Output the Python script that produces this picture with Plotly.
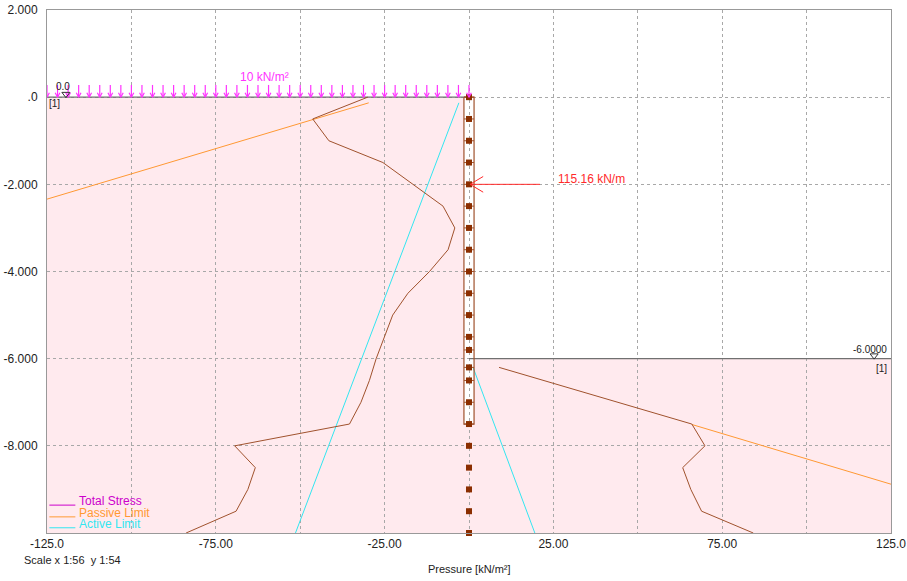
import plotly.graph_objects as go

# ---------------- data ----------------
depth_left = [0, -0.5, -1.0, -1.5, -2.0, -2.5, -3.0, -3.5, -4.0, -4.5, -5.0,
              -5.5, -6.0, -6.5, -7.0, -7.5, -8.0, -8.5, -9.0, -9.5, -10.0]
stress_left = [-30.0, -46.3, -41.5, -25.5, -16.6, -7.7, -4.2, -6.2, -11.7, -18.1, -22.6,
               -25.0, -27.5, -29.5, -32.0, -35.4, -69.4, -63.3, -65.5, -69.0, -83.8]
depth_right = [-6.2, -7.5, -8.0, -8.5, -9.0, -9.5, -10.0]
stress_right = [8.9, 66.0, 69.9, 63.3, 65.7, 68.9, 84.2]

passive_left_x = [-125.0, -29.7]
passive_left_y = [-2.34, -0.13]
passive_right_x = [66.0, 125.0]
passive_right_y = [-7.51, -8.88]
active_left_x = [-3.0, -51.4]
active_left_y = [-0.13, -10.0]
active_right_x = [1.2, 19.5]
active_right_y = [-6.2, -10.0]

node_depths = [0, -0.5, -1.0, -1.5, -2.0, -2.5, -3.0, -3.5, -4.0, -4.5, -5.0, -5.5,
               -5.8, -6.2, -6.5, -7.0, -7.5, -8.0, -8.5, -9.0, -9.5, -10.0]
wall_half_width = 1.5
wall_bottom = -7.5
ground_left = 0.0
ground_right = -6.0
surcharge_from, surcharge_to, surcharge_count = -125.0, 0.0, 41
surcharge_label = "10 kN/m²"
force_depth = -2.0
force_label = "115.16 kN/m"

x_ticks = [-125, -100, -75, -50, -25, 0, 25, 50, 75, 100, 125]
x_tick_text = ["-125.0", "", "-75.00", "", "-25.00", "", "25.00", "", "75.00", "", "125.0"]
y_ticks = [2, 0, -2, -4, -6, -8]
y_tick_text = ["2.000", ".0", "-2.000", "-4.000", "-6.000", "-8.000"]

BROWN = "#A0522D"
NODE = "#8B2E00"
ORANGE = "#FF9933"
CYAN = "#33E6F0"
MAGENTA = "#FF33FF"
RED = "#FF2A2A"
PINK = "#FFEAEE"
FONT = "Liberation Sans, Arial, sans-serif"

fig = go.Figure()

# soil fills / wall
shapes = [
    dict(type="rect", xref="x", yref="y", x0=-125, x1=0, y0=-10, y1=ground_left,
         fillcolor=PINK, line=dict(width=0), layer="below"),
    dict(type="rect", xref="x", yref="y", x0=0, x1=125, y0=-10, y1=ground_right,
         fillcolor=PINK, line=dict(width=0), layer="below"),
    dict(type="rect", xref="x", yref="y", x0=-wall_half_width, x1=wall_half_width,
         y0=wall_bottom, y1=0, fillcolor="white", line=dict(width=0), layer="below"),
]
fig.update_layout(shapes=shapes)

# ground lines
fig.add_trace(go.Scatter(x=[-125, 0], y=[ground_left, ground_left], mode="lines",
                         line=dict(color="#707070", width=1.2), hoverinfo="skip"))
fig.add_trace(go.Scatter(x=[0, 125], y=[ground_right, ground_right], mode="lines",
                         line=dict(color="#707070", width=1.2), hoverinfo="skip"))

# limits
fig.add_trace(go.Scatter(x=passive_left_x, y=passive_left_y, mode="lines",
                         line=dict(color=ORANGE, width=1), hoverinfo="skip"))
fig.add_trace(go.Scatter(x=passive_right_x, y=passive_right_y, mode="lines",
                         line=dict(color=ORANGE, width=1), hoverinfo="skip"))
fig.add_trace(go.Scatter(x=active_left_x, y=active_left_y, mode="lines",
                         line=dict(color=CYAN, width=1), hoverinfo="skip"))
fig.add_trace(go.Scatter(x=active_right_x, y=active_right_y, mode="lines",
                         line=dict(color=CYAN, width=1), hoverinfo="skip"))

# total stress
fig.add_trace(go.Scatter(x=stress_left, y=depth_left, mode="lines",
                         line=dict(color=BROWN, width=1), hoverinfo="skip"))
fig.add_trace(go.Scatter(x=stress_right, y=depth_right, mode="lines",
                         line=dict(color=BROWN, width=1), hoverinfo="skip"))

# wall outline
fig.add_trace(go.Scatter(x=[-wall_half_width, wall_half_width, wall_half_width, -wall_half_width, -wall_half_width],
                         y=[0, 0, wall_bottom, wall_bottom, 0], mode="lines",
                         line=dict(color=BROWN, width=1.2), hoverinfo="skip"))
# wall node ticks
tx, ty = [], []
for d in node_depths:
    if d >= wall_bottom:
        tx += [-wall_half_width, wall_half_width, None]
        ty += [d, d, None]
fig.add_trace(go.Scatter(x=tx, y=ty, mode="lines", line=dict(color=BROWN, width=1),
                         hoverinfo="skip"))
fig.add_trace(go.Scatter(x=[0] * len(node_depths), y=node_depths, mode="markers",
                         marker=dict(symbol="square", size=6, color=NODE), hoverinfo="skip",
                         cliponaxis=False))

# surcharge arrows
step = (surcharge_to - surcharge_from) / (surcharge_count - 1)
sx, sy = [], []
for i in range(surcharge_count):
    xi = surcharge_from + i * step
    sx += [xi, xi, None, xi - 0.7, xi, xi + 0.7, None]
    sy += [0.28, 0.0, None, 0.1, 0.0, 0.1, None]
fig.add_trace(go.Scatter(x=sx, y=sy, mode="lines", line=dict(color=MAGENTA, width=1.2),
                         hoverinfo="skip", cliponaxis=False))

# force arrow
fig.add_trace(go.Scatter(x=[0.3, 21.0, None, 4.2, 0.3, 4.2],
                         y=[force_depth, force_depth, None, force_depth + 0.18, force_depth, force_depth - 0.18],
                         mode="lines", line=dict(color=RED, width=1), hoverinfo="skip"))

# level markers
fig.add_trace(go.Scatter(x=[-119.4, 120.0], y=[ground_left + 0.07, ground_right + 0.07], mode="markers",
                         marker=dict(symbol="triangle-down-open", size=7, color="#333333",
                                     line=dict(width=1, color="#333333")),
                         hoverinfo="skip"))

# legend lines
legend_items = [("Total Stress", "#CC00CC", -9.27), ("Passive Limit", ORANGE, -9.54),
                ("Active Limit", CYAN, -9.79)]
for name, col, yy in legend_items:
    fig.add_trace(go.Scatter(x=[-124.3, -116.6], y=[yy - 0.09, yy - 0.09], mode="lines",
                             line=dict(color=col, width=1), hoverinfo="skip"))

ann = []
for name, col, yy in legend_items:
    ann.append(dict(x=-116.0, y=yy, xref="x", yref="y", text=name, showarrow=False,
                    xanchor="left", yanchor="middle", font=dict(color=col, size=12, family=FONT)))
ann += [
    dict(x=-60.6, y=0.46, xref="x", yref="y", text=surcharge_label, showarrow=False,
         font=dict(color=MAGENTA, size=12, family=FONT)),
    dict(x=36.2, y=-1.88, xref="x", yref="y", text=force_label, showarrow=False,
         font=dict(color=RED, size=12, family=FONT)),
    dict(x=-120.2, y=0.25, xref="x", yref="y", text="0.0", showarrow=False,
         font=dict(color="#222222", size=10, family=FONT)),
    dict(x=-122.9, y=-0.15, xref="x", yref="y", text="[1]", showarrow=False,
         font=dict(color="#222222", size=10, family=FONT)),
    dict(x=124.5, y=-5.78, xref="x", yref="y", text="-6.0000", showarrow=False, xanchor="right",
         font=dict(color="#222222", size=10, family=FONT)),
    dict(x=122.2, y=-6.22, xref="x", yref="y", text="[1]", showarrow=False,
         font=dict(color="#222222", size=10, family=FONT)),
    dict(x=-0.0296, y=-0.0516, xref="paper", yref="paper", text="Scale x 1:56  y 1:54",
         showarrow=False, xanchor="left", yanchor="middle",
         font=dict(color="#222222", size=11, family=FONT)),
    dict(x=0.5006, y=-0.0688, xref="paper", yref="paper", text="Pressure [kN/m²]",
         showarrow=False, xanchor="center", yanchor="middle",
         font=dict(color="#222222", size=11, family=FONT)),
]

fig.update_layout(
    width=907, height=581,
    margin=dict(l=47, r=16, t=10, b=48, autoexpand=False),
    paper_bgcolor="white", plot_bgcolor="white",
    showlegend=False,
    annotations=ann,
    font=dict(family=FONT, size=12, color="#222222"),
    xaxis=dict(range=[-125, 125], tickvals=x_ticks, ticktext=x_tick_text,
               showgrid=True, gridcolor="#A8A8A8", griddash="dot", gridwidth=1,
               zeroline=False, showline=True, linecolor="#999999", mirror=True,
               ticks="", tickfont=dict(size=12, color="#222222"), fixedrange=True,
               automargin=False),
    yaxis=dict(range=[-10, 2], tickvals=y_ticks, ticktext=y_tick_text,
               showgrid=True, gridcolor="#A8A8A8", griddash="dot", gridwidth=1,
               zeroline=False, showline=True, linecolor="#999999", mirror=True,
               ticks="", ticklabelstandoff=6, tickfont=dict(size=12, color="#222222"),
               fixedrange=True, automargin=False),
)

fig.write_html("out.html", config={"displayModeBar": False},
               post_script="document.body.style.margin='0';document.body.style.overflow='hidden';")
